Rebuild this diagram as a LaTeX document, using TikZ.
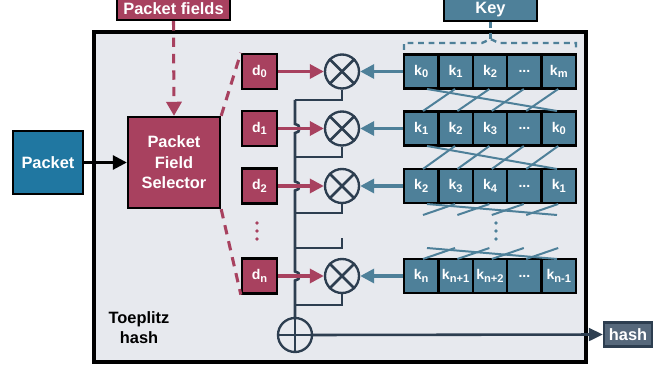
\documentclass[tikz,border=0pt]{standalone}
\usepackage{fontspec}
\setmainfont{Liberation Sans}
\usetikzlibrary{arrows.meta}

\definecolor{pfred}{HTML}{A8415F}
\definecolor{keyteal}{HTML}{4E8099}
\definecolor{pktblue}{HTML}{2077A1}
\definecolor{hashgray}{HTML}{56687B}
\definecolor{busdark}{HTML}{2D3E50}
\definecolor{toepbg}{HTML}{E7E9EE}

\newcommand{\idx}[1]{\raisebox{-0.3ex}{\fontsize{9.5}{10}\selectfont #1}}

\tikzset{
	box/.style={draw=black, line width=2pt, text=white, inner sep=0pt, align=center,
		font=\fontsize{14}{17.5}\selectfont\bfseries},
	redbox/.style={box, fill=pfred},
	dbox/.style={box, fill=pfred, minimum width=1.05cm, minimum height=1.05cm,
		font=\fontsize{12}{13}\selectfont\bfseries},
	keycell/.style={box, fill=keyteal, minimum width=1.032cm, minimum height=1.03cm,
		font=\fontsize{12}{13}\selectfont\bfseries},
	mult/.style={circle, draw=busdark, line width=2pt, minimum size=1.02cm, inner sep=0pt},
	redarrow/.style={pfred, line width=2.8pt, -{Triangle[length=12pt,width=12pt]}},
	tealarrow/.style={keyteal, line width=2.8pt, -{Triangle[length=12pt,width=12pt]}},
	reddash/.style={pfred, line width=2.6pt, dash pattern=on 8pt off 6pt},
	keydash/.style={keyteal, line width=2pt, dash pattern=on 5pt off 4pt},
	busline/.style={busdark, line width=2.2pt},
	crossline/.style={keyteal, line width=1.7pt},
}

% one row of the key, shifted
\newcommand{\keyrow}[6]{%
	\node[keycell] (#1c0) at (421.2,#2) {k\idx{#3}};
	\node[keycell] (#1c1) at (455.6,#2) {k\idx{#4}};
	\node[keycell] (#1c2) at (490,#2) {k\idx{#5}};
	\node[keycell] (#1c3) at (524.4,#2) {...};
	\node[keycell] (#1c4) at (558.8,#2) {k\idx{#6}};}

% wires between two key rows
\newcommand{\keycross}[2]{%
	\foreach \i in {0,...,3}
	\draw[crossline] ({455+34.4*\i},#1) -- ({423+34.4*\i},#2);
	\draw[crossline] (427,#1) -- (557,#2);}

\begin{document}
\begin{tikzpicture}[x=0.03cm, y=-0.03cm]
	\useasboundingbox (0,0) rectangle (670,370);
	
	%toeplitz box
	\draw[fill=toepbg, line width=3pt] (94,32) rectangle (586,362);
	\node[align=center, font=\fontsize{14}{17}\selectfont\bfseries] (toep) at (139,328) {Toeplitz\\hash};
	
	%outside boxes
	\node[redbox, minimum width=3.39cm, minimum height=0.66cm] (pfields) at (173.5,9) {Packet fields};
	\node[box, fill=keyteal, minimum width=2.79cm, minimum height=0.66cm] (key) at (490.5,10) {Key};
	\node[box, fill=pktblue, minimum width=2.1cm, minimum height=1.89cm] (packet) at (48,162.5) {Packet};
	\node[box, fill=hashgray, draw=busdark, minimum width=1.44cm, minimum height=0.72cm] (hash) at (628,334.5) {hash};
	
	%selector
	\node[redbox, minimum width=2.76cm, minimum height=2.73cm] (selector) at (174,162.5) {Packet\\Field\\Selector};
	
	%data fields
	\node[dbox] (d0) at (259.5,71.5) {d\idx{0}};
	\node[dbox] (d1) at (259.5,128.5) {d\idx{1}};
	\node[dbox] (d2) at (259.5,186) {d\idx{2}};
	\node[dbox] (dn) at (259.5,276) {d\idx{n}};
	\foreach \y in {223,231,239}
	\fill[pfred] (257,\y) circle (1.6pt);
	
	%key rows
	\keyrow{r0}{71.5}{0}{1}{2}{m}
	\keyrow{r1}{128.5}{1}{2}{3}{0}
	\keyrow{r2}{186}{2}{3}{4}{1}
	\keyrow{rn}{276}{n}{n+1}{n+2}{n-1}
	\keycross{89}{111}
	\keycross{146}{169}
	\keycross{204}{215}
	\keycross{248}{259}
	\foreach \y in {223,231,239}
	\fill[keyteal] (496,\y) circle (1.6pt);
	
	%key brace
	\draw[keydash] (key.south) -- (490.5,39);
	\draw[keydash] (404,50) -- (404,43) -- (482,43) -- (490.5,39) -- (499,43) -- (576,43) -- (576,50);
	
	%multipliers
	\foreach \m/\y in {m0/71.5, m1/128.5, m2/186, mn/276} {
		\node[mult] (\m) at (342,\y) {};
		\draw[busline] (\m.north west) -- (\m.south east);
		\draw[busline] (\m.north east) -- (\m.south west);
	}
	\node[mult] (xor) at (295,335) {};
	\draw[busline] (xor.north) -- (xor.south);
	\draw[busline] (xor.west) -- (xor.east);
	
	%bus
	\coordinate (bustop) at (295,100);
	\coordinate (stub) at (342,238);
	\draw[busline] (m0.south) |- (bustop);
	\draw[busline] (m1.south) |- (295,157);
	\draw[busline] (m2.south) |- (295,213);
	\draw[busline] (stub) |- (295,248);
	\draw[busline] (mn.south) |- (295,305);
	\draw[busline] (bustop) -- (295,124) .. controls (301,124) and (301,133) .. (295,133)
		-- (295,181.5) .. controls (301,181.5) and (301,190.5) .. (295,190.5)
		-- (295,271.5) .. controls (301,271.5) and (301,280.5) .. (295,280.5)
		-- (xor.north);
	
	%arrows
	\draw[redarrow] (d0.east) -- (m0.west);
	\draw[redarrow] (d1.east) -- (m1.west);
	\draw[redarrow] (d2.east) -- (m2.west);
	\draw[redarrow] (dn.east) -- (mn.west);
	\draw[tealarrow] (r0c0.west) -- (m0.east);
	\draw[tealarrow] (r1c0.west) -- (m1.east);
	\draw[tealarrow] (r2c0.west) -- (m2.east);
	\draw[tealarrow] (rnc0.west) -- (mn.east);
	\draw[black, line width=2.4pt, -{Triangle[length=12pt,width=12pt]}] (packet.east) -- (selector.west);
	\draw[busline, -{Triangle[length=12pt,width=11pt]}] (xor.east) -- (hash.west);
	
	%dashed selections
	\draw[reddash, -{Triangle[length=12pt,width=13pt]}] (pfields.south) -- (selector.north);
	\draw[reddash] (selector.north east) -- (d0.north west);
	\draw[reddash] (selector.south east) -- (dn.south west);
\end{tikzpicture}
\end{document}
